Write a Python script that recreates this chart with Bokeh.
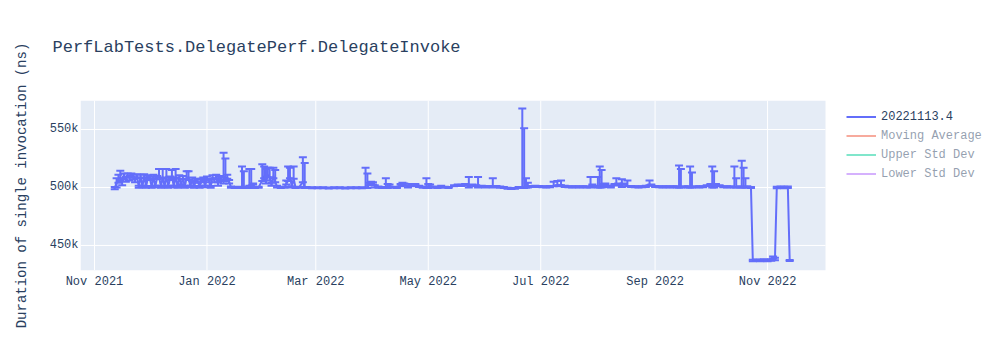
import pandas as pd
from bokeh.plotting import figure
from bokeh.models import (Whisker, ColumnDataSource, Range1d, FixedTicker, NumeralTickFormatter,
                          DatetimeTickFormatter, Legend, LegendItem, TeeHead, LinearAxis,
                          CustomJSTickFormatter)
from bokeh.embed import file_html
from bokeh.resources import INLINE

title_text = "PerfLabTests.DelegatePerf.DelegateInvoke"
y_label = "Duration of single invocation (ns)"
legend_names = ["20221113.4", "Moving Average", "Upper Std Dev", "Lower Std Dev"]
legend_colors = ["#636EFA", "#EF553B", "#00CC96", "#AB63FA"]
x_tick_dates = ["2021-11-01", "2022-01-01", "2022-03-01", "2022-05-01", "2022-07-01", "2022-09-01", "2022-11-01"]
y_ticks = [450000, 500000, 550000]

dates = [
    "2021-11-12", "2021-11-13", "2021-11-14", "2021-11-15", "2021-11-16", "2021-11-17", "2021-11-18",
    "2021-11-19", "2021-11-20", "2021-11-21", "2021-11-22", "2021-11-23", "2021-11-24", "2021-11-25",
    "2021-11-26", "2021-11-27", "2021-11-28", "2021-11-29", "2021-11-30", "2021-12-01", "2021-12-02",
    "2021-12-03", "2021-12-04", "2021-12-05", "2021-12-06", "2021-12-07", "2021-12-08", "2021-12-09",
    "2021-12-10", "2021-12-11", "2021-12-12", "2021-12-13", "2021-12-14", "2021-12-15", "2021-12-16",
    "2021-12-17", "2021-12-18", "2021-12-19", "2021-12-20", "2021-12-21", "2021-12-22", "2021-12-23",
    "2021-12-24", "2021-12-25", "2021-12-26", "2021-12-27", "2021-12-28", "2021-12-29", "2021-12-30",
    "2021-12-31", "2022-01-01", "2022-01-02", "2022-01-03", "2022-01-04", "2022-01-05", "2022-01-06",
    "2022-01-07", "2022-01-08", "2022-01-09", "2022-01-10", "2022-01-11", "2022-01-12", "2022-01-13",
    "2022-01-14",
    "2022-01-16", "2022-01-18", "2022-01-20", "2022-01-21", "2022-01-22", "2022-01-24", "2022-01-25",
    "2022-01-26", "2022-01-27", "2022-01-29", "2022-01-31", "2022-02-01", "2022-02-02", "2022-02-03",
    "2022-02-04", "2022-02-05", "2022-02-06", "2022-02-07", "2022-02-08", "2022-02-10", "2022-02-12",
    "2022-02-13", "2022-02-14", "2022-02-15", "2022-02-16", "2022-02-17", "2022-02-18", "2022-02-20",
    "2022-02-22", "2022-02-23", "2022-02-24",
    "2022-02-27", "2022-03-02", "2022-03-05", "2022-03-08", "2022-03-11", "2022-03-14", "2022-03-17",
    "2022-03-20", "2022-03-23", "2022-03-26",
    "2022-03-28", "2022-03-29", "2022-03-30", "2022-03-31", "2022-04-01", "2022-04-02", "2022-04-04",
    "2022-04-06", "2022-04-08", "2022-04-09", "2022-04-10", "2022-04-12", "2022-04-14", "2022-04-16",
    "2022-04-17", "2022-04-18", "2022-04-20", "2022-04-22", "2022-04-24", "2022-04-26", "2022-04-28",
    "2022-04-30", "2022-05-01", "2022-05-02", "2022-05-04", "2022-05-06", "2022-05-08", "2022-05-10",
    "2022-05-12", "2022-05-15", "2022-05-17", "2022-05-19", "2022-05-21", "2022-05-23", "2022-05-25",
    "2022-05-27", "2022-05-28", "2022-05-30", "2022-06-01", "2022-06-03", "2022-06-05", "2022-06-07",
    "2022-06-09", "2022-06-11", "2022-06-13", "2022-06-15", "2022-06-17", "2022-06-19", "2022-06-21",
    "2022-06-22", "2022-06-23", "2022-06-24", "2022-06-26", "2022-06-28", "2022-06-30", "2022-07-02",
    "2022-07-04", "2022-07-06", "2022-07-08", "2022-07-10", "2022-07-11", "2022-07-12", "2022-07-14",
    "2022-07-16", "2022-07-18", "2022-07-20", "2022-07-22", "2022-07-24", "2022-07-26", "2022-07-28",
    "2022-07-29", "2022-07-31", "2022-08-01", "2022-08-02", "2022-08-03", "2022-08-04", "2022-08-05",
    "2022-08-06", "2022-08-08", "2022-08-10", "2022-08-11", "2022-08-12", "2022-08-14", "2022-08-15",
    "2022-08-17", "2022-08-19", "2022-08-21", "2022-08-23", "2022-08-25", "2022-08-27", "2022-08-29",
    "2022-08-30", "2022-09-01", "2022-09-03", "2022-09-05", "2022-09-07", "2022-09-09", "2022-09-11",
    "2022-09-13", "2022-09-14", "2022-09-15", "2022-09-17", "2022-09-19", "2022-09-20", "2022-09-21",
    "2022-09-23", "2022-09-25", "2022-09-27", "2022-09-29", "2022-10-01", "2022-10-02", "2022-10-03",
    "2022-10-04", "2022-10-06", "2022-10-08", "2022-10-10", "2022-10-12", "2022-10-14", "2022-10-15",
    "2022-10-17", "2022-10-18", "2022-10-19", "2022-10-20", "2022-10-21", "2022-10-23", "2022-10-24",
    "2022-10-26", "2022-10-28", "2022-10-30", "2022-11-01", "2022-11-03", "2022-11-04", "2022-11-05",
    "2022-11-06", "2022-11-08", "2022-11-10", "2022-11-12", "2022-11-13",
]

values = [
    499500, 504500, 507000, 509000, 505000, 509500, 507000,
    510500, 508000, 511000, 509000, 506500, 510000, 500500,
    509500, 501000, 510000, 500500, 509000, 508000, 500500,
    509500, 501000, 508500, 510000, 500500, 509000, 501000,
    510000, 500500, 508000, 509500, 501000, 510000, 500500,
    509000, 502000, 508500, 500500, 509000, 508000, 501000,
    507000, 500500, 506000, 505500, 500500, 506000, 507000,
    501000, 508000, 506000, 500500, 509000, 506000, 509500,
    503000, 508000, 507000, 505000, 507000, 509000, 505000,
    500300,
    500000, 500200, 500000, 500000, 500200, 502000, 500000,
    503000, 500000, 500200, 506000, 510000, 504000, 511000,
    508000, 502000, 510000, 505000, 500500, 500000, 500200,
    503000, 506000, 510000, 500500, 508000, 500000, 500200,
    505000, 500000, 500000,
    499800, 499700, 499800, 499600, 499700, 499800, 499600,
    499700, 499800, 499700,
    500000, 500000, 503000, 504000, 503500, 501000, 500300,
    500000, 500000, 500000, 501500, 500200, 500000, 502000,
    503000, 502500, 501000, 502000, 502500, 501000, 500300,
    500000, 500000, 501500, 500300, 500000, 501000, 500200,
    500000, 501500, 502000, 501800, 502500, 500500, 502000,
    501500, 500500, 501000, 500500, 500800, 500500, 500800,
    500300, 500000, 499300, 499000, 499200, 500000, 500000,
    500000, 500500, 500500, 500800, 501000, 500800, 500600,
    500500, 500700, 501500, 502000, 501500, 502500, 501000,
    500600, 500500, 500600, 500500, 500600, 500500, 500500,
    502000, 500800, 500500, 500500, 500500, 502500, 503000,
    501000, 500500, 502500, 502500, 503000, 501000, 503000,
    501500, 500800, 500600, 500500, 500600, 501000, 502500,
    502000, 500800, 500600, 500500, 500600, 500500, 500600,
    500500, 500500, 500500, 500600, 500500, 500500, 500500,
    500600, 500500, 500600, 501500, 502500, 500500, 500500,
    502500, 501500, 500600, 500500, 500600, 500500, 500500,
    500600, 500500, 500500, 500500, 500600, 500000, 437000,
    437200, 437000, 437300, 437000, 437500, 439500, 438000,
    500000, 500200, 500000, 500200, 437000,
]

err_plus = [
    800, 3500, 4000, 5500, 3000, 2500, 2000,
    1500, 2000, 1000, 2000, 2000, 1500, 1000,
    1500, 800, 1500, 800, 1500, 1500, 800,
    1500, 800, 1500, 6000, 800, 7000, 800,
    6000, 800, 1500, 5500, 800, 6000, 800,
    1500, 800, 1500, 800, 5000, 6000, 800,
    1500, 800, 1500, 1500, 800, 1500, 1500,
    800, 1500, 1500, 800, 1500, 1500, 1500,
    1500, 2000, 2000, 25000, 18000, 2000, 1500,
    500,
    500, 500, 18000, 14000, 500, 14000, 16000,
    500, 500, 500, 14000, 8000, 12000, 6000,
    9000, 2000, 7000, 10000, 1000, 500, 500,
    3000, 12000, 7000, 500, 10000, 500, 500,
    21000, 21000, 500,
    400, 400, 400, 400, 400, 400, 400,
    400, 400, 400,
    17000, 12000, 1000, 1000, 1000, 1000, 500,
    500, 8000, 3000, 1000, 500, 500, 1000,
    1000, 1000, 1000, 1000, 500, 500, 500,
    8000, 3000, 1000, 500, 500, 500, 500,
    500, 500, 500, 500, 500, 8500, 500,
    500, 8500, 500, 500, 500, 7500, 500,
    500, 500, 400, 400, 400, 400, 68000,
    51000, 7500, 3500, 500, 500, 500, 500,
    500, 500, 3500, 3500, 500, 3500, 500,
    500, 500, 500, 500, 500, 500, 8500,
    500, 500, 8500, 17500, 14500, 500, 500,
    500, 500, 500, 5500, 500, 6000, 500,
    4500, 500, 500, 500, 500, 500, 3500,
    500, 500, 500, 500, 500, 500, 500,
    500, 18500, 15500, 500, 500, 17500, 12500,
    500, 500, 500, 500, 500, 17500, 13500,
    500, 500, 500, 500, 500, 17500, 7500,
    500, 22500, 16500, 7500, 500, 500, 700,
    700, 700, 700, 700, 700, 1000, 1500,
    700, 700, 700, 700, 500,
]

err_minus = [
    1000, 4500, 3000, 3500, 3000, 2500, 2000,
    2000, 2000, 2000, 2000, 2000, 1500, 800,
    1500, 800, 1500, 800, 1500, 1500, 800,
    1500, 800, 1500, 1500, 800, 1500, 800,
    1500, 800, 1500, 1500, 800, 1500, 800,
    1500, 800, 1500, 800, 1500, 1500, 800,
    1500, 800, 1500, 1500, 800, 1500, 1500,
    800, 1500, 1500, 800, 1500, 1500, 1500,
    1500, 1500, 1500, 1500, 1500, 1500, 1500,
    500,
    500, 500, 500, 500, 500, 500, 500,
    500, 500, 500, 500, 2000, 500, 2000,
    2000, 500, 2000, 500, 500, 500, 500,
    500, 500, 2000, 500, 500, 500, 500,
    500, 500, 500,
    400, 400, 400, 400, 400, 400, 400,
    400, 400, 400,
    500, 500, 1000, 1000, 1000, 1000, 500,
    500, 500, 500, 1000, 500, 500, 1000,
    1000, 1000, 1000, 1000, 500, 500, 500,
    500, 500, 1000, 500, 500, 500, 500,
    500, 500, 500, 500, 500, 500, 500,
    500, 500, 500, 500, 500, 500, 500,
    500, 500, 400, 400, 400, 400, 500,
    500, 500, 500, 500, 500, 500, 500,
    500, 500, 500, 500, 500, 500, 500,
    500, 500, 500, 500, 500, 500, 500,
    500, 500, 500, 500, 500, 500, 500,
    500, 500, 500, 500, 500, 500, 500,
    500, 500, 500, 500, 500, 500, 500,
    500, 500, 500, 500, 500, 500, 500,
    500, 500, 500, 500, 500, 500, 500,
    500, 500, 500, 500, 500, 500, 500,
    500, 500, 500, 500, 500, 500, 500,
    500, 500, 500, 500, 500, 500, 700,
    700, 700, 700, 700, 700, 700, 700,
    700, 700, 700, 700, 500,
]

FONT = "Liberation Mono"
TXT = "#2a3f5f"
BLUE = legend_colors[0]
PLOT_BG = "#E5ECF6"

x = pd.to_datetime(dates)
src = ColumnDataSource(dict(
    x=x, y=values,
    upper=[v + e for v, e in zip(values, err_plus)],
    lower=[v - e for v, e in zip(values, err_minus)],
))

# axis extents of the plotting area (745 px wide); the frame continues 175 px further
# to the right to host the legend without clipping it
x_start = pd.Timestamp("2021-10-24 10:00")
x_end = pd.Timestamp("2022-12-02 10:00")
y_start, y_end = 428400, 575000
PLOT_W, LEGEND_W = 745, 175
frame_end = x_end + (x_end - x_start) * (LEGEND_W / PLOT_W)

p = figure(frame_width=PLOT_W + LEGEND_W, frame_height=170, x_axis_type="datetime",
           output_backend="svg", toolbar_location=None,
           x_range=Range1d(x_start, frame_end), y_range=Range1d(y_start, y_end),
           min_border_left=80, min_border_right=0, min_border_top=100, min_border_bottom=80)

p.background_fill_color = "white"
p.border_fill_color = "white"
p.outline_line_color = None
p.xgrid.visible = False
p.ygrid.visible = False

p.title.text = title_text
p.title.text_font = FONT
p.title.text_font_size = "17px"
p.title.text_font_style = "normal"
p.title.text_color = TXT
p.title.offset = -28
p.title.standoff = 10

# spacer axis above the plot area (one undrawn tick, empty label), lifting the title
mid_ms = (x_start + (x_end - x_start) / 2).timestamp() * 1000
top_spacer = LinearAxis(ticker=FixedTicker(ticks=[mid_ms], minor_ticks=[]), axis_line_color=None,
                        major_tick_line_color=None, minor_tick_line_color=None,
                        major_tick_out=39, minor_tick_out=0, major_tick_in=0, minor_tick_in=0,
                        major_label_standoff=0, major_label_text_font_size="0px",
                        formatter=CustomJSTickFormatter(code="return ''"))
p.add_layout(top_spacer, "above")

xax = p.below[0]
yax = p.left[0]
tick_ts = pd.to_datetime(x_tick_dates)
xt = FixedTicker(ticks=[t.timestamp() * 1000 for t in tick_ts])
xax.ticker = xt
fmt = "%b %Y"
xax.formatter = DatetimeTickFormatter(days=fmt, months=fmt, years=fmt)
yax.ticker = FixedTicker(ticks=y_ticks)
yax.formatter = NumeralTickFormatter(format="0a")

for ax in (xax, yax):
    ax.axis_line_color = None
    ax.major_tick_line_color = None
    ax.minor_tick_line_color = None
    ax.major_tick_out = 0
    ax.major_label_text_font = FONT
    ax.major_label_text_font_size = "12px"
    ax.major_label_text_color = TXT
xax.major_label_standoff = 4
yax.major_label_standoff = 2
yax.axis_label = y_label
yax.axis_label_text_font = FONT
yax.axis_label_text_font_size = "14px"
yax.axis_label_text_font_style = "normal"
yax.axis_label_text_color = TXT
yax.axis_label_standoff = 17

# plotting-area background and white grid lines, limited to the plotting area
p.quad(left=[x_start], right=[x_end], bottom=[y_start], top=[y_end],
       fill_color=PLOT_BG, line_color=None)
p.segment(x0=list(tick_ts), x1=list(tick_ts), y0=[y_start] * len(tick_ts), y1=[y_end] * len(tick_ts),
          line_color="white", line_width=1)
p.segment(x0=[x_start] * len(y_ticks), x1=[x_end] * len(y_ticks), y0=y_ticks, y1=y_ticks,
          line_color="white", line_width=1)

w = Whisker(source=src, base="x", upper="upper", lower="lower", dimension="height",
            line_color=BLUE, line_width=2, level="glyph",
            upper_head=TeeHead(size=8, line_color=BLUE, line_width=2),
            lower_head=TeeHead(size=8, line_color=BLUE, line_width=2))
p.add_layout(w)
r_main = p.line("x", "y", source=src, line_color=BLUE, line_width=2)

# legend-only series (hidden in the chart, as in the original)
nan_src = ColumnDataSource(dict(x=[x[0]], y=[float("nan")]))
renderers = [r_main]
for col in legend_colors[1:]:
    renderers.append(p.line("x", "y", source=nan_src, line_color=col, line_width=2, visible=False))

legend = Legend(items=[LegendItem(label=n, renderers=[r]) for n, r in zip(legend_names, renderers)],
                location=(PLOT_W + 15, 81), click_policy="hide",
                label_text_font=FONT, label_text_font_size="12px", label_text_color=TXT,
                glyph_width=30, glyph_height=19, label_height=19, label_standoff=5,
                spacing=0, padding=6, margin=0, border_line_alpha=0,
                background_fill_alpha=0, inactive_fill_color="white", inactive_fill_alpha=0.5)
p.add_layout(legend)

open("out.html", "w").write(file_html(p, INLINE))
